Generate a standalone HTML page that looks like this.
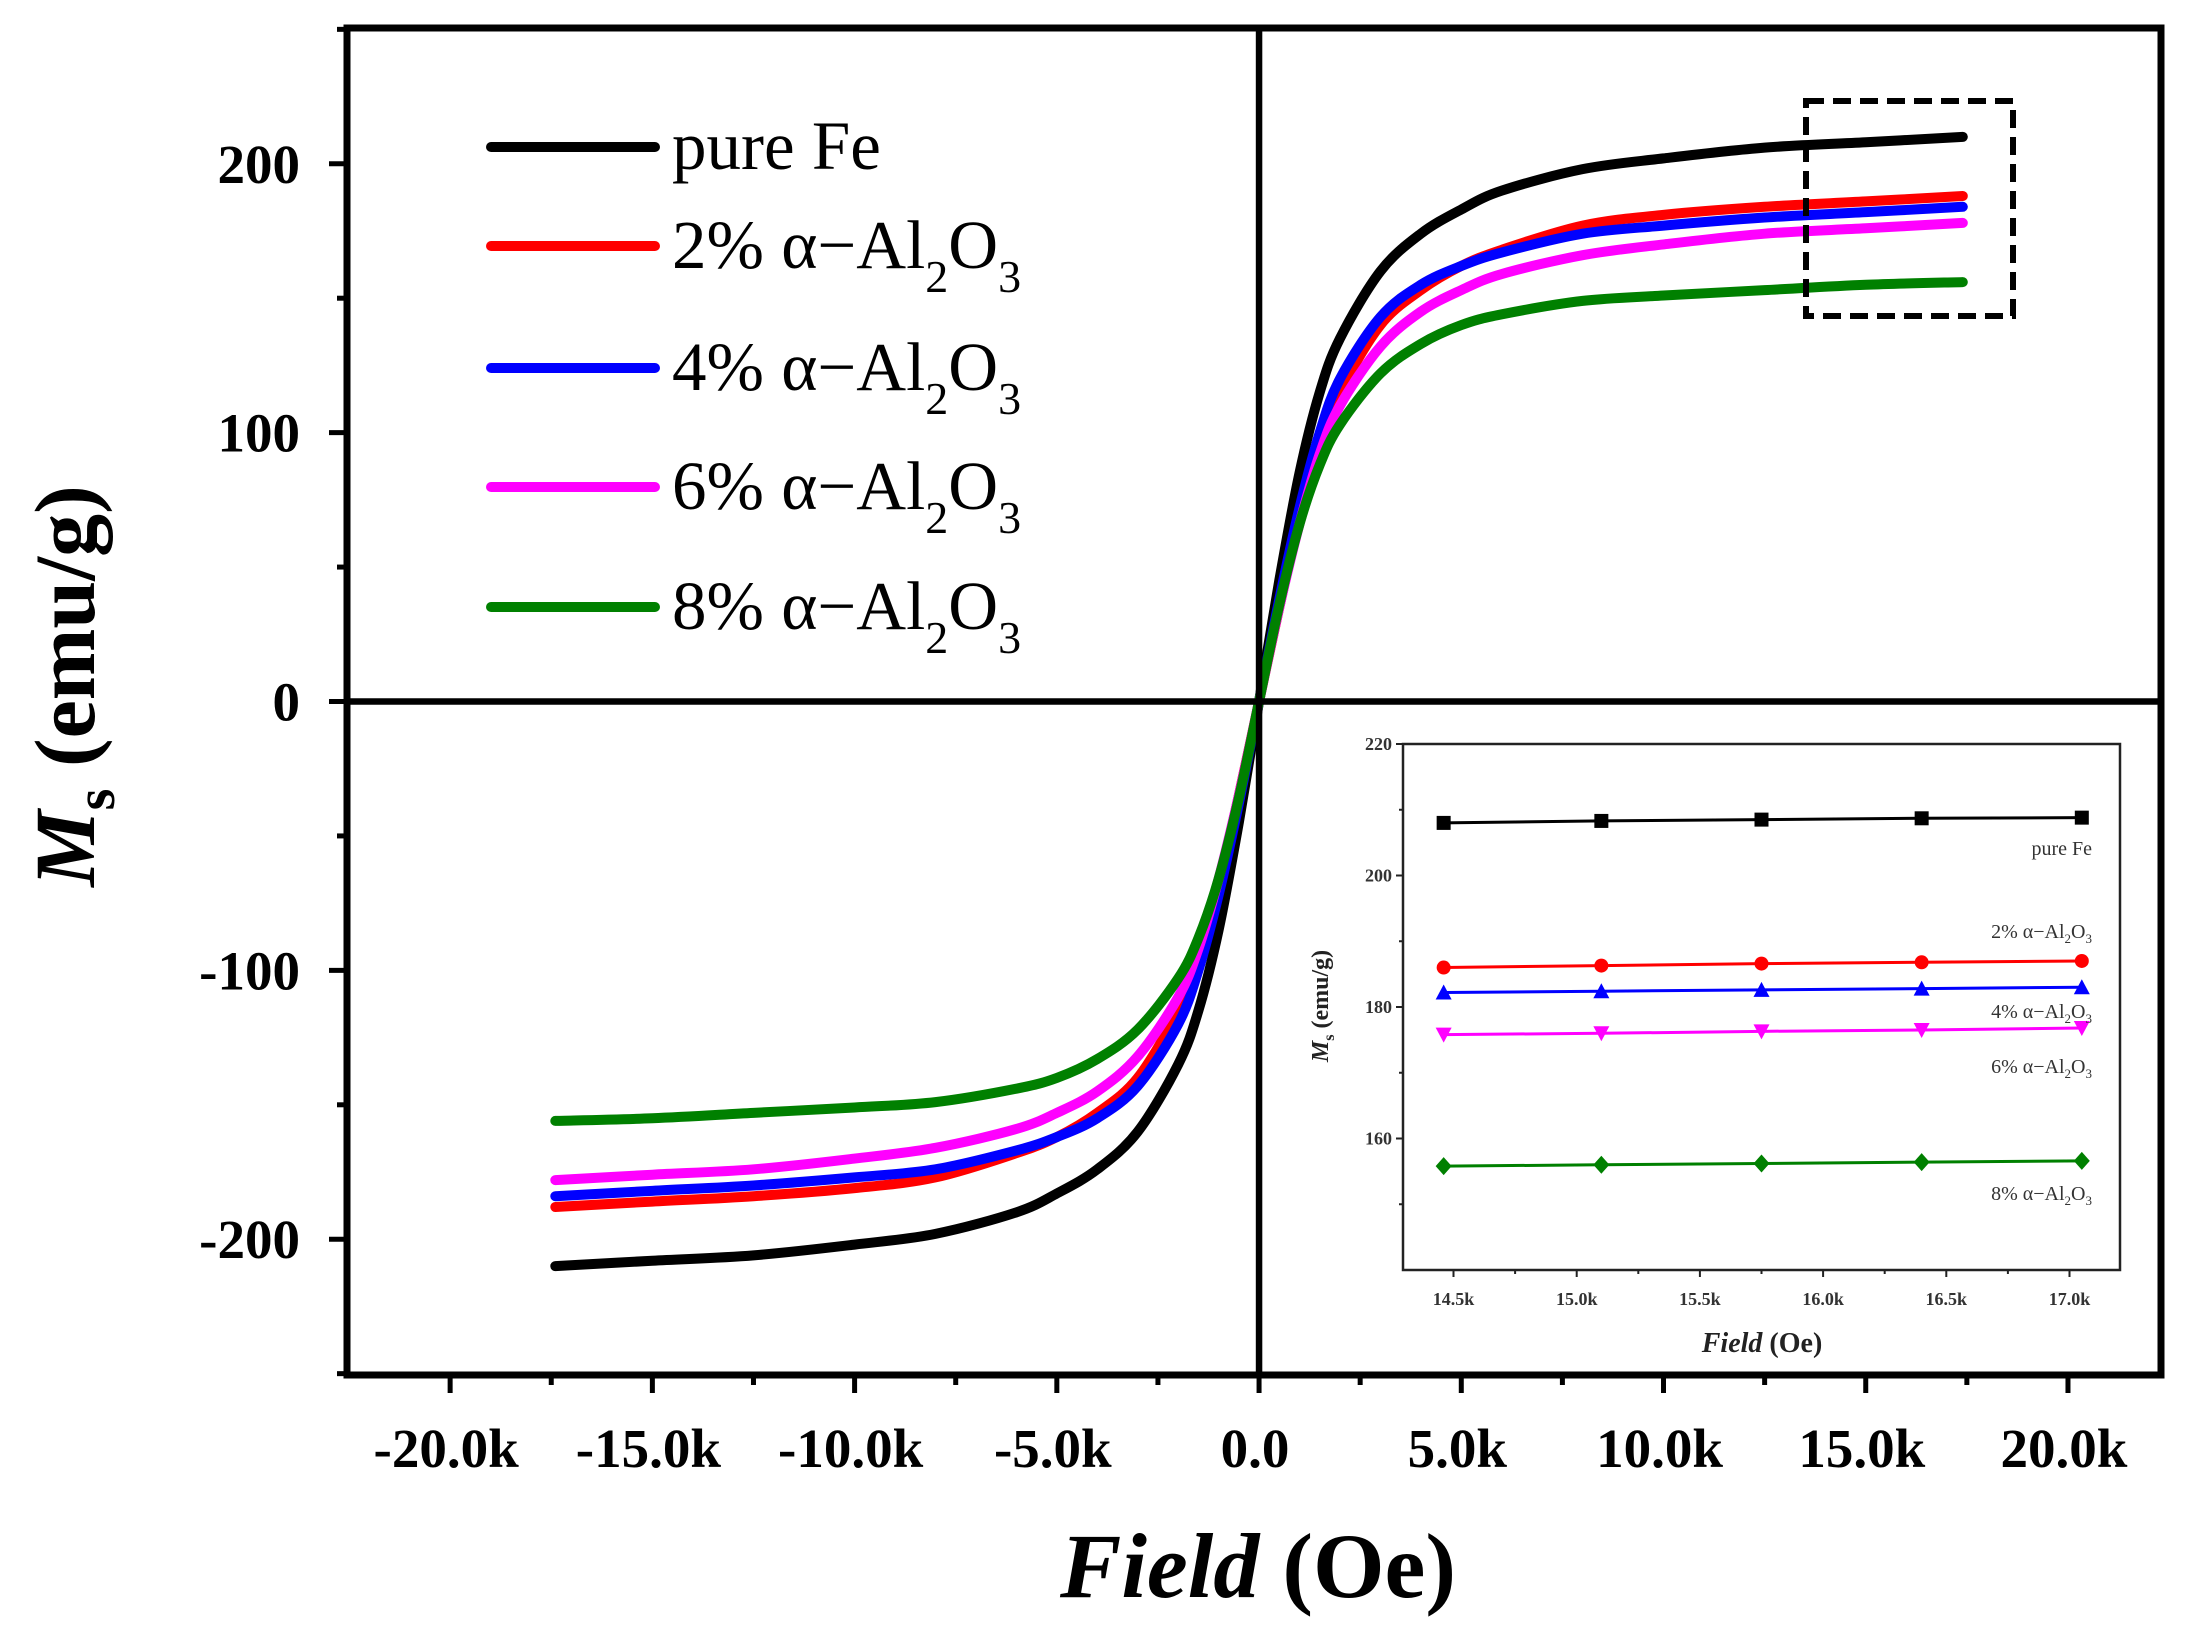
<!DOCTYPE html>
<html><head><meta charset="utf-8"><style>
html,body{margin:0;padding:0;background:#fff}
svg{display:block}
text{font-family:"Liberation Serif",serif}
</style></head><body>
<svg id="chart" width="2193" height="1630" viewBox="0 0 2193 1630" xmlns="http://www.w3.org/2000/svg"></svg>
<script>
// ---------- main chart data ----------
const fieldPos = [0, 500, 1000, 1500, 2000, 3000, 4000, 5000, 6000, 8000, 10000, 12500, 15000, 17400];
const msPureFe = [0, 45, 85, 115, 135, 160, 174, 183, 190, 198, 202, 206, 208, 210];
const ms2 = [0, 35, 68, 95, 115, 140, 153, 162, 168, 177, 181, 184, 186, 188];
const ms4 = [0, 38, 72, 100, 120, 143, 155, 162, 167, 174, 177, 180, 182, 184];
const ms6 = [0, 35, 66, 92, 110, 132, 145, 153, 159, 166, 170, 174, 176, 178];
const ms8 = [0, 36, 66, 88, 103, 122, 133, 140, 144, 149, 151, 153, 155, 156];
const seriesNames = ["pure Fe", "2%", "4%", "6%", "8%"];
const seriesColors = ["#000000", "#ff0000", "#0000ff", "#ff00ff", "#008000"];
const xTicks = [-20000, -15000, -10000, -5000, 0, 5000, 10000, 15000, 20000];
const xTickLabels = ["-20.0k", "-15.0k", "-10.0k", "-5.0k", "0.0", "5.0k", "10.0k", "15.0k", "20.0k"];
const yTicks = [-200, -100, 0, 100, 200];
const yTickLabels = ["-200", "-100", "0", "100", "200"];
// ---------- inset data ----------
const insetField = [14460, 15100, 15750, 16400, 17050];
const insetPureFe = [208, 208.3, 208.5, 208.7, 208.8];
const inset2 = [186, 186.3, 186.6, 186.8, 187];
const inset4 = [182.2, 182.4, 182.6, 182.8, 183];
const inset6 = [175.8, 176, 176.3, 176.5, 176.8];
const inset8 = [155.8, 156, 156.2, 156.4, 156.6];
const insetXTicks = [14500, 15000, 15500, 16000, 16500, 17000];
const insetXTickLabels = ["14.5k", "15.0k", "15.5k", "16.0k", "16.5k", "17.0k"];
const insetYTicks = [160, 180, 200, 220];
const insetYTickLabels = ["160", "180", "200", "220"];

const NS = "http://www.w3.org/2000/svg";
const svg = document.getElementById("chart");
function mk(tag, attrs, parent) {
  const e = document.createElementNS(NS, tag);
  for (const k in attrs) e.setAttribute(k, attrs[k]);
  (parent || svg).appendChild(e);
  return e;
}
const L = 347, R = 2161, T = 28, B = 1375;
const xMin = -22550, xMax = 22300, yMin = -250.5, yMax = 250.5;
const X = v => L + (v - xMin) / (xMax - xMin) * (R - L);
const Y = v => B - (v - yMin) / (yMax - yMin) * (B - T);

for (let v = -20000; v <= 20000; v += 2500) {
  const major = v % 5000 === 0;
  const t = mk("line", {x1: X(v), x2: X(v), y1: B, y2: B + (major ? 18 : 10), stroke: "#000", "stroke-width": 5});
  
  
}
for (let v = -250; v <= 250; v += 50) {
  const major = v % 100 === 0;
  const t = mk("line", {x1: L, x2: L - (major ? 18 : 10), y1: Y(v), y2: Y(v), stroke: "#000", "stroke-width": 5});
  
  
}
xTicks.forEach((v, i) => {
  const t = mk("text", {x: X(v) - 4, y: 1467, "text-anchor": "middle", "font-size": 55, "font-weight": "bold"});
  t.textContent = xTickLabels[i];
  
  
});
yTicks.forEach((v, i) => {
  const t = mk("text", {x: 300, y: Y(v) + 19, "text-anchor": "end", "font-size": 55, "font-weight": "bold"});
  t.textContent = yTickLabels[i];
  
  
});

const posSeries = [msPureFe, ms2, ms4, ms6, ms8];
function curvePath(xs, ys, xf, yf) {
  const pts = xs.map((x, i) => [xf(x), yf(ys[i])]);
  let d = "M" + pts[0][0] + " " + pts[0][1];
  for (let i = 0; i < pts.length - 1; i++) {
    const p0 = pts[Math.max(0, i - 1)], p1 = pts[i], p2 = pts[i + 1], p3 = pts[Math.min(pts.length - 1, i + 2)];
    const c1 = [p1[0] + (p2[0] - p0[0]) / 6, p1[1] + (p2[1] - p0[1]) / 6];
    const c2 = [p2[0] - (p3[0] - p1[0]) / 6, p2[1] - (p3[1] - p1[1]) / 6];
    d += ` C${c1[0]} ${c1[1]} ${c2[0]} ${c2[1]} ${p2[0]} ${p2[1]}`;
  }
  return d;
}
[0, 1, 2, 3, 4].forEach(si => {
  const vals = posSeries[si];
  const fx = [], fy = [];
  for (let i = fieldPos.length - 1; i > 0; i--) { fx.push(-fieldPos[i]); fy.push(-vals[i]); }
  for (let i = 0; i < fieldPos.length; i++) { fx.push(fieldPos[i]); fy.push(vals[i]); }
  const p = mk("path", {d: curvePath(fx, fy, X, Y), fill: "none", stroke: seriesColors[si], "stroke-width": 10, "stroke-linecap": "round", "stroke-linejoin": "round"});
  
  
});

const zx = mk("line", {x1: L, x2: R, y1: Y(0), y2: Y(0), stroke: "#000", "stroke-width": 6.5});


const zy = mk("line", {x1: X(0), x2: X(0), y1: T, y2: B, stroke: "#000", "stroke-width": 6.5});


const fr = mk("rect", {x: L, y: T, width: R - L, height: B - T, fill: "none", stroke: "#000", "stroke-width": 7});



const db = mk("rect", {x: 1806, y: 101, width: 207, height: 215, fill: "none", stroke: "#000", "stroke-width": 6, "stroke-dasharray": "18 9"});



const legY = [147, 246, 368, 487, 607];
seriesNames.forEach((n, i) => {
  const g = mk("g", {});
  
  
  mk("line", {x1: 491, x2: 655, y1: legY[i], y2: legY[i], stroke: seriesColors[i], "stroke-width": 10, "stroke-linecap": "round"}, g);
  const t = mk("text", {x: 672, y: legY[i] + 22, "font-size": 69}, g);
  if (i === 0) t.textContent = "pure Fe";
  else t.innerHTML = n + " α−Al<tspan dy='24' font-size='46'>2</tspan><tspan dy='-24'>O</tspan><tspan dy='24' font-size='46'>3</tspan>";
});

const xt = mk("text", {x: 1258, y: 1597, "text-anchor": "middle", "font-size": 92, "font-weight": "bold"});
xt.innerHTML = "<tspan font-style='italic'>Field</tspan> (Oe)";


const yt = mk("text", {x: 0, y: 0, "text-anchor": "middle", "font-size": 86, "font-weight": "bold", transform: "translate(94,686) rotate(-90)"});
yt.innerHTML = "<tspan font-style='italic'>M</tspan><tspan font-size='56' dy='20'>s</tspan><tspan dy='-20'> (emu/g)</tspan>";



// ---------- inset ----------
const iL = 1403, iR = 2120, iT = 744, iB = 1270;
const ixMin = 14295, ixMax = 17205, iyMin = 140, iyMax = 220;
const IX = v => iL + (v - ixMin) / (ixMax - ixMin) * (iR - iL);
const IY = v => iB - (v - iyMin) / (iyMax - iyMin) * (iB - iT);
const ibg = mk("rect", {x: iL, y: iT, width: iR - iL, height: iB - iT, fill: "#fff", stroke: "#222", "stroke-width": 2.5});


for (let v = 14500; v <= 17000; v += 250) {
  const t = mk("line", {x1: IX(v), x2: IX(v), y1: iB, y2: iB + (v % 500 === 0 ? 7 : 4), stroke: "#222", "stroke-width": 2});
  
  
}
for (let v = 150; v <= 220; v += 10) {
  const t = mk("line", {x1: iL, x2: iL - (v % 20 === 0 ? 7 : 4), y1: IY(v), y2: IY(v), stroke: "#222", "stroke-width": 2});
  
  
}
insetXTicks.forEach((v, i) => {
  const t = mk("text", {x: IX(v), y: 1305, "text-anchor": "middle", "font-size": 18, "font-weight": "bold", fill: "#333"});
  t.textContent = insetXTickLabels[i];
  
  
});
insetYTicks.forEach((v, i) => {
  const t = mk("text", {x: 1392, y: IY(v) + 6, "text-anchor": "end", "font-size": 18, "font-weight": "bold", fill: "#333"});
  t.textContent = insetYTickLabels[i];
  
  
});
const ixt = mk("text", {x: 1762, y: 1352, "text-anchor": "middle", "font-size": 28, "font-weight": "bold", fill: "#222"});
ixt.innerHTML = "<tspan font-style='italic'>Field</tspan> (Oe)";


const iyt = mk("text", {x: 0, y: 0, "text-anchor": "middle", "font-size": 24, "font-weight": "bold", fill: "#222", transform: "translate(1328,1006) rotate(-90)"});
iyt.innerHTML = "<tspan font-style='italic'>M</tspan><tspan font-size='16' dy='6'>s</tspan><tspan dy='-6'> (emu/g)</tspan>";



const insetSeries = [insetPureFe, inset2, inset4, inset6, inset8];
const markerTypes = ["square", "circle", "triangle", "tridown", "diamond"];
insetSeries.forEach((vals, si) => {
  const c = seriesColors[si];
  const pl = mk("polyline", {points: insetField.map((f, i) => IX(f) + "," + IY(vals[i])).join(" "), fill: "none", stroke: c, "stroke-width": 3});
  
  
  insetField.forEach((f, i) => {
    const x = IX(f), y = IY(vals[i]), s = 7;
    let m;
    if (markerTypes[si] === "square") m = mk("rect", {x: x - s, y: y - s, width: 2 * s, height: 2 * s, fill: c});
    else if (markerTypes[si] === "circle") m = mk("circle", {cx: x, cy: y, r: s, fill: c});
    else if (markerTypes[si] === "triangle") m = mk("polygon", {points: `${x},${y - s - 1} ${x - s - 1},${y + s} ${x + s + 1},${y + s}`, fill: c});
    else if (markerTypes[si] === "tridown") m = mk("polygon", {points: `${x},${y + s + 1} ${x - s - 1},${y - s} ${x + s + 1},${y - s}`, fill: c});
    else m = mk("polygon", {points: `${x},${y - s - 2} ${x + s + 1},${y} ${x},${y + s + 2} ${x - s - 1},${y}`, fill: c});
    
    
  });
});
const insetLabelY = [855, 938, 1018, 1073, 1200];
seriesNames.forEach((n, i) => {
  const t = mk("text", {x: 2092, y: insetLabelY[i], "text-anchor": "end", "font-size": 20, fill: "#333"});
  if (i === 0) t.textContent = "pure Fe";
  else t.innerHTML = n + " α−Al<tspan dy='5' font-size='13'>2</tspan><tspan dy='-5'>O</tspan><tspan dy='5' font-size='13'>3</tspan>";
  
  
});
</script>
</body></html>
